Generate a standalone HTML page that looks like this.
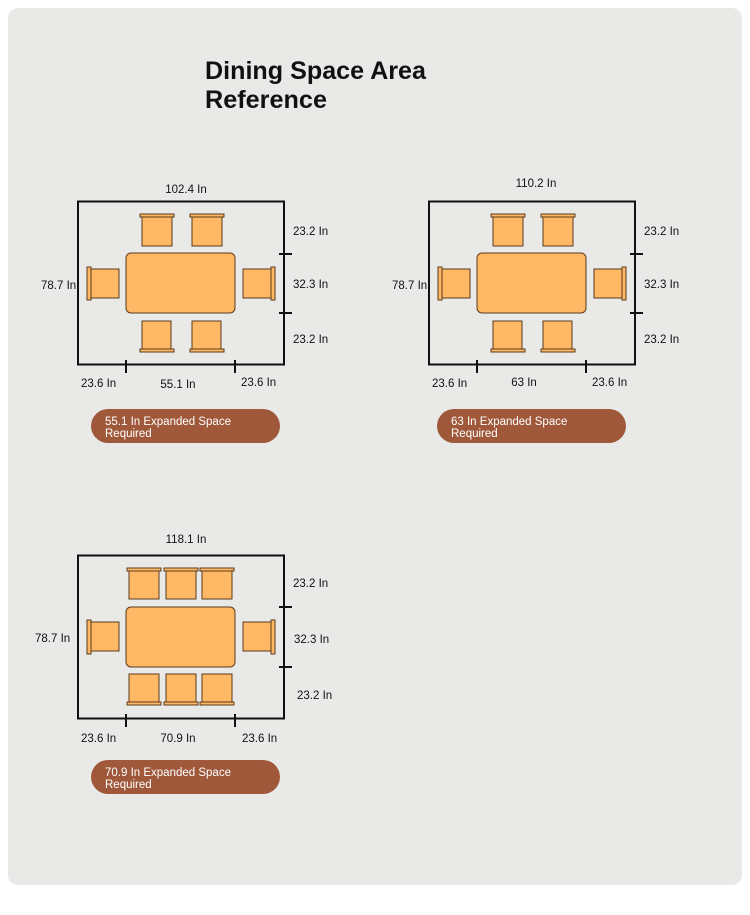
<!DOCTYPE html>
<html><head><meta charset="utf-8"><style>
html,body{margin:0;padding:0;background:#fff;width:750px;height:915px;overflow:hidden}
svg{display:block}
text{font-family:"Liberation Sans",Arial,sans-serif;fill:#111}
.l{font-size:11.5px}
.p{font-size:11.5px;fill:#fff}
.c{fill:#ffb866;stroke:#5a3a1a;stroke-width:1}
</style></head><body>
<svg width="750" height="915" viewBox="0 0 750 915">
<rect x="8" y="8" width="734" height="877" rx="10" fill="#e9e9e8"/>
<text x="205" y="79" font-size="25" font-weight="bold" textLength="221" lengthAdjust="spacingAndGlyphs">Dining Space Area</text>
<text x="205" y="108" font-size="25" font-weight="bold" textLength="122" lengthAdjust="spacingAndGlyphs">Reference</text>

<defs>
<g id="d6">
<rect x="78" y="201.5" width="206" height="163" fill="none" stroke="#111" stroke-width="2"/>
<rect class="c" x="126" y="253" width="109" height="60" rx="5"/>
<rect class="c" x="140" y="214" width="34" height="3"/><rect class="c" x="142" y="217" width="30" height="29"/>
<rect class="c" x="190" y="214" width="34" height="3"/><rect class="c" x="192" y="217" width="30" height="29"/>
<rect class="c" x="142" y="321" width="29" height="28"/><rect class="c" x="140" y="349" width="34" height="3"/>
<rect class="c" x="192" y="321" width="29" height="28"/><rect class="c" x="190" y="349" width="34" height="3"/>
<rect class="c" x="87" y="267" width="4" height="33"/><rect class="c" x="91" y="269" width="28" height="29"/>
<rect class="c" x="243" y="269" width="28" height="29"/><rect class="c" x="271" y="267" width="4" height="33"/>
<path d="M279 254H292M279 313H292M126 360V373M235 360V373" stroke="#111" stroke-width="2"/>
<text class="l" x="293" y="235">23.2 In</text>
<text class="l" x="293" y="288">32.3 In</text>
<text class="l" x="293" y="343">23.2 In</text>
<text class="l" x="41" y="289">78.7 In</text>
<text class="l" x="81" y="387">23.6 In</text>
<text class="l" x="241" y="386">23.6 In</text>
</g>
</defs>

<use href="#d6"/>
<text class="l" x="186" y="193" text-anchor="middle">102.4 In</text>
<text class="l" x="178" y="388" text-anchor="middle">55.1 In</text>
<rect x="91" y="409" width="189" height="34" rx="17" fill="#a0583a"/>
<text class="p" x="105" y="425">55.1 In Expanded Space</text>
<text class="p" x="105" y="437">Required</text>

<use href="#d6" x="351" y="0"/>
<text class="l" x="536" y="187" text-anchor="middle">110.2 In</text>
<text class="l" x="524" y="386" text-anchor="middle">63 In</text>
<rect x="437" y="409" width="189" height="34" rx="17" fill="#a0583a"/>
<text class="p" x="451" y="425">63 In Expanded Space</text>
<text class="p" x="451" y="437">Required</text>

<g>
<rect x="78" y="555.5" width="206" height="163" fill="none" stroke="#111" stroke-width="2"/>
<rect class="c" x="126" y="607" width="109" height="60" rx="5"/>
<rect class="c" x="127" y="568" width="34" height="3"/><rect class="c" x="129" y="571" width="30" height="28"/>
<rect class="c" x="164" y="568" width="34" height="3"/><rect class="c" x="166" y="571" width="30" height="28"/>
<rect class="c" x="200" y="568" width="34" height="3"/><rect class="c" x="202" y="571" width="30" height="28"/>
<rect class="c" x="129" y="674" width="30" height="28"/><rect class="c" x="127" y="702" width="34" height="3"/>
<rect class="c" x="166" y="674" width="30" height="28"/><rect class="c" x="164" y="702" width="34" height="3"/>
<rect class="c" x="202" y="674" width="30" height="28"/><rect class="c" x="200" y="702" width="34" height="3"/>
<rect class="c" x="87" y="620" width="4" height="34"/><rect class="c" x="91" y="622" width="28" height="29"/>
<rect class="c" x="243" y="622" width="28" height="29"/><rect class="c" x="271" y="620" width="4" height="34"/>
<path d="M279 607H292M279 667H292M126 714V727M235 714V727" stroke="#111" stroke-width="2"/>
<text class="l" x="186" y="543" text-anchor="middle">118.1 In</text>
<text class="l" x="293" y="587">23.2 In</text>
<text class="l" x="294" y="643">32.3 In</text>
<text class="l" x="297" y="699">23.2 In</text>
<text class="l" x="35" y="642">78.7 In</text>
<text class="l" x="81" y="742">23.6 In</text>
<text class="l" x="178" y="742" text-anchor="middle">70.9 In</text>
<text class="l" x="242" y="742">23.6 In</text>
<rect x="91" y="760" width="189" height="34" rx="17" fill="#a0583a"/>
<text class="p" x="105" y="776">70.9 In Expanded Space</text>
<text class="p" x="105" y="788">Required</text>
</g>
</svg>
</body></html>
